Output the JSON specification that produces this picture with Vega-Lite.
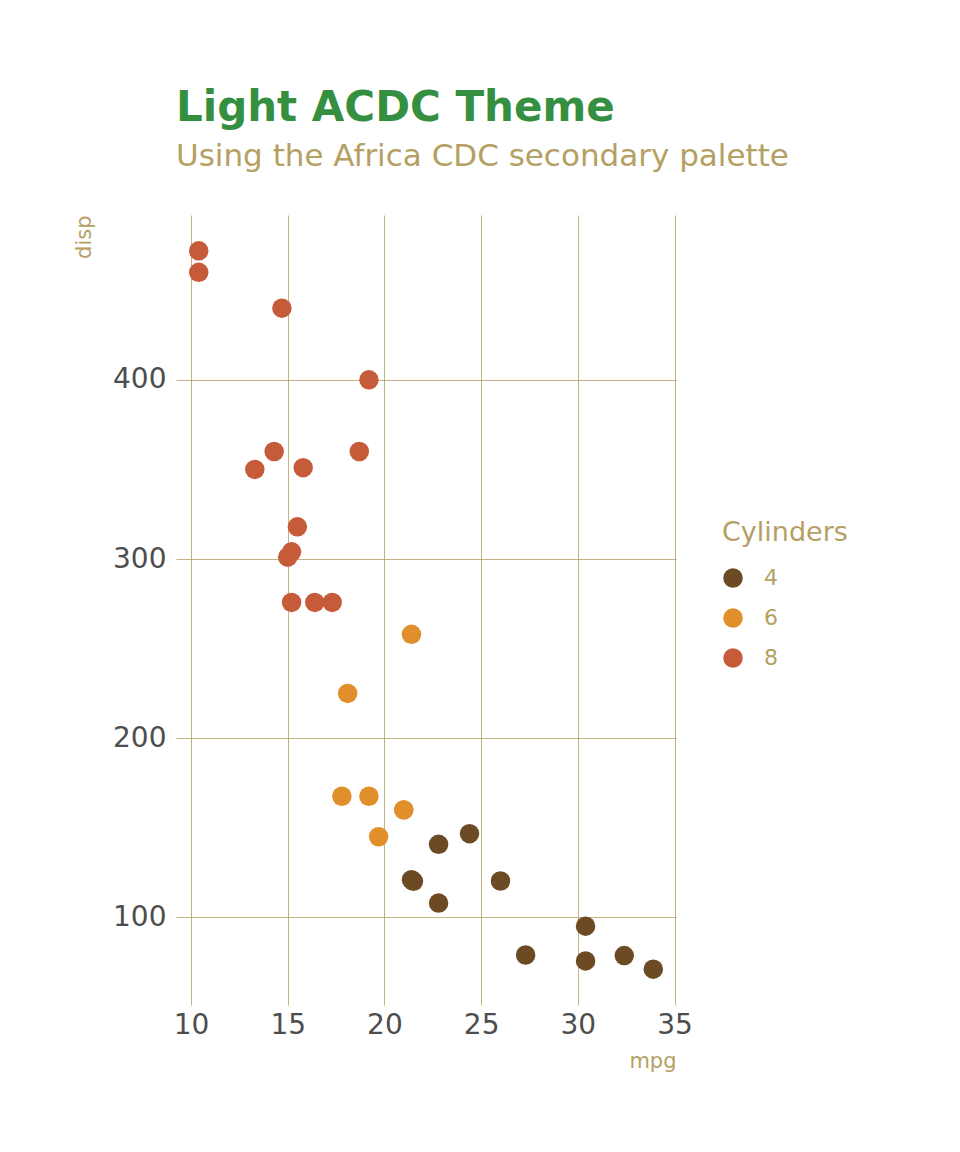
{
  "$schema": "https://vega.github.io/schema/vega-lite/v6.json",
  "width": 500,
  "height": 790,
  "autosize": {"type": "none"},
  "padding": {"left": 176, "top": 215, "right": 284, "bottom": 147},
  "background": "white",
  "config": {"font": "DejaVu Sans", "view": {"stroke": null}},
  "title": {
    "text": "Light ACDC Theme",
    "subtitle": "Using the Africa CDC secondary palette",
    "anchor": "start",
    "frame": "group",
    "fontSize": 42,
    "fontWeight": "bold",
    "color": "#348f41",
    "subtitleFontSize": 31,
    "subtitleColor": "#b5a064",
    "subtitlePadding": 12,
    "offset": 42
  },
  "data": {
    "values": [
      {"mpg": 21.0, "cyl": "6", "disp": 160},
      {"mpg": 21.0, "cyl": "6", "disp": 160},
      {"mpg": 22.8, "cyl": "4", "disp": 108},
      {"mpg": 21.4, "cyl": "6", "disp": 258},
      {"mpg": 18.7, "cyl": "8", "disp": 360},
      {"mpg": 18.1, "cyl": "6", "disp": 225},
      {"mpg": 14.3, "cyl": "8", "disp": 360},
      {"mpg": 24.4, "cyl": "4", "disp": 146.7},
      {"mpg": 22.8, "cyl": "4", "disp": 140.8},
      {"mpg": 19.2, "cyl": "6", "disp": 167.6},
      {"mpg": 17.8, "cyl": "6", "disp": 167.6},
      {"mpg": 16.4, "cyl": "8", "disp": 275.8},
      {"mpg": 17.3, "cyl": "8", "disp": 275.8},
      {"mpg": 15.2, "cyl": "8", "disp": 275.8},
      {"mpg": 10.4, "cyl": "8", "disp": 472},
      {"mpg": 10.4, "cyl": "8", "disp": 460},
      {"mpg": 14.7, "cyl": "8", "disp": 440},
      {"mpg": 32.4, "cyl": "4", "disp": 78.7},
      {"mpg": 30.4, "cyl": "4", "disp": 75.7},
      {"mpg": 33.9, "cyl": "4", "disp": 71.1},
      {"mpg": 21.5, "cyl": "4", "disp": 120.1},
      {"mpg": 15.5, "cyl": "8", "disp": 318},
      {"mpg": 15.2, "cyl": "8", "disp": 304},
      {"mpg": 13.3, "cyl": "8", "disp": 350},
      {"mpg": 19.2, "cyl": "8", "disp": 400},
      {"mpg": 27.3, "cyl": "4", "disp": 79},
      {"mpg": 26.0, "cyl": "4", "disp": 120.3},
      {"mpg": 30.4, "cyl": "4", "disp": 95.1},
      {"mpg": 15.8, "cyl": "8", "disp": 351},
      {"mpg": 19.7, "cyl": "6", "disp": 145},
      {"mpg": 15.0, "cyl": "8", "disp": 301},
      {"mpg": 21.4, "cyl": "4", "disp": 121}
    ]
  },
  "mark": {"type": "circle", "size": 380, "opacity": 1},
  "encoding": {
    "x": {
      "field": "mpg",
      "type": "quantitative",
      "scale": {"domain": [9.225, 35.075], "nice": false, "zero": false},
      "axis": {
        "values": [10, 15, 20, 25, 30, 35],
        "domain": false,
        "ticks": false,
        "labelFontSize": 28,
        "labelColor": "#4d4d4d",
        "labelPadding": 6,
        "gridColor": "#b5a064",
        "gridOpacity": 0.8,
        "title": "mpg",
        "titleFontSize": 21,
        "titleFontWeight": "normal",
        "titleColor": "#b5a064",
        "titleX": 500,
        "titleY": 62,
        "titleAlign": "right",
        "titleBaseline": "alphabetic"
      }
    },
    "y": {
      "field": "disp",
      "type": "quantitative",
      "scale": {"domain": [51.1, 492], "nice": false, "zero": false},
      "axis": {
        "values": [100, 200, 300, 400],
        "domain": false,
        "ticks": false,
        "labelFontSize": 28,
        "labelColor": "#4d4d4d",
        "labelPadding": 10,
        "gridColor": "#b5a064",
        "gridOpacity": 0.8,
        "title": "disp",
        "titleFontSize": 21,
        "titleFontWeight": "normal",
        "titleColor": "#b5a064",
        "titleAngle": -90,
        "titleX": -92,
        "titleY": 0,
        "titleAlign": "right",
        "titleBaseline": "middle"
      }
    },
    "color": {
      "field": "cyl",
      "type": "nominal",
      "scale": {"domain": ["4", "6", "8"], "range": ["#6b4a24", "#e08f2a", "#c65b3a"]},
      "legend": {
        "title": "Cylinders",
        "orient": "none",
        "legendX": 546,
        "legendY": 305,
        "titleFontSize": 27,
        "titleFontWeight": "normal",
        "titleColor": "#b5a064",
        "titlePadding": 20,
        "labelFontSize": 22,
        "labelColor": "#b5a064",
        "labelOffset": 20,
        "symbolSize": 380,
        "symbolType": "circle",
        "rowPadding": 18,
        "padding": 0,
        "offset": 0
      }
    }
  }
}
